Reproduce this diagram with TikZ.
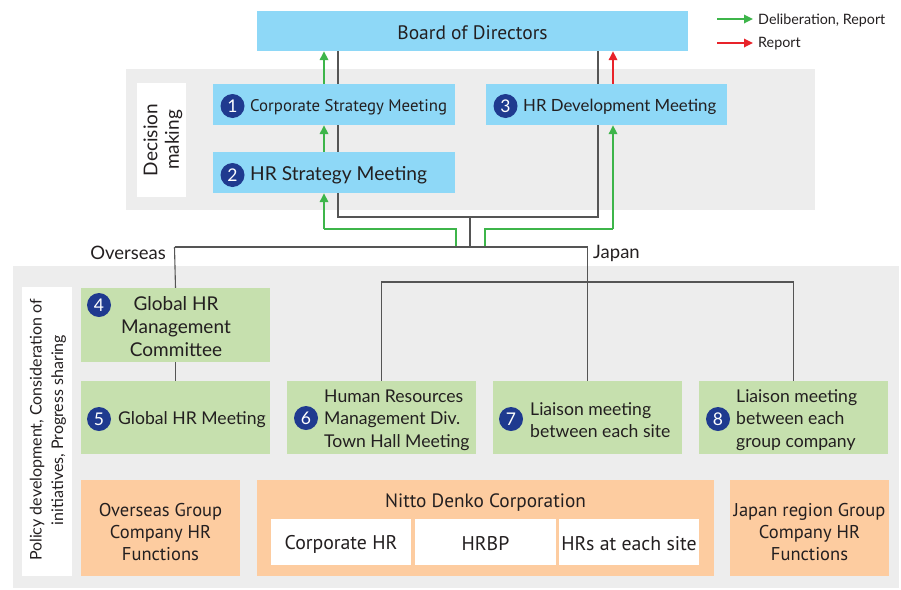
\documentclass[tikz,border=0pt]{standalone}
\usepackage{fontspec}
\setmainfont{Lato}
\newfontfamily\cond{PT Sans}
\usetikzlibrary{arrows.meta}
\definecolor{blueBox}{HTML}{8ED8F7}
\definecolor{greenBox}{HTML}{C6E0AE}
\definecolor{orangeBox}{HTML}{FDCCA0}
\definecolor{panel}{HTML}{EDEDED}
\definecolor{numBlue}{HTML}{1F3A8F}
\definecolor{arrGreen}{HTML}{3DB54A}
\definecolor{arrRed}{HTML}{E8232A}
\definecolor{lineGray}{HTML}{555555}
\definecolor{txt}{HTML}{231F20}
\tikzset{
  x=1pt, y=-1pt,
  every node/.style={inner sep=0pt, text=txt},
  bluebox/.style={fill=blueBox, minimum height=41},
  greenbox/.style={fill=greenBox, minimum width=189, minimum height=73},
  orangebox/.style={fill=orangeBox, minimum height=96},
  whitebox/.style={fill=white, minimum height=46},
  num/.style={circle, fill=numBlue, minimum size=24, text=white, font=\fontsize{17.5}{17.5}\selectfont},
  btxt/.style={anchor=west, align=left, font=\fontsize{17.6}{22.3}\selectfont},
  dark/.style={draw=lineGray, line width=1.1pt},
  garrow/.style={draw=arrGreen, line width=1.7pt, -{Triangle[length=9pt,width=8.5pt]}},
  gline/.style={draw=arrGreen, line width=1.7pt},
  rarrow/.style={draw=arrRed, line width=1.7pt, -{Triangle[length=9pt,width=8.5pt]}},
}
\begin{document}
\begin{tikzpicture}
\useasboundingbox (0,0) rectangle (901,589);
% panels
\fill[panel] (126,69) rectangle (815,210);
\fill[panel] (13,266) rectangle (899,588);
\node[fill=white, minimum width=49, minimum height=114] (dm) at (161.5,140) {};
\node[rotate=90, align=center, font=\fontsize{19}{21.5}\selectfont] (dmt) at (163,140) {Decision\\making};
\node[fill=white, minimum width=50, minimum height=289] (pw) at (47,431.5) {};
\node[rotate=90, align=center, font=\fontsize{16}{21.5}\selectfont] (pwt) at (48,430) {Policy development, Consideration of\\initiatives, Progress sharing};
% boxes
\node[bluebox, minimum width=431, minimum height=40] (board) at (472.5,31) {};
\node[font=\cond\fontsize{19.5}{22}\selectfont] (boardt) at (472.5,33) {Board of Directors};
\coordinate (jL) at (338,217);
\coordinate (jR) at (598,217);
\coordinate (jM) at (470,217);
\coordinate (jB) at (470,247);
\coordinate (ov) at (174.5,247);
\coordinate (jp) at (587.5,247);
\coordinate (h2) at (0,282);
\coordinate (gA) at (324,229);
\coordinate (gB) at (613,229);
\coordinate (gs1) at (456,247);
\coordinate (gs2) at (485,247);
% dark lines behind boxes
\draw[dark] (board.south -| jL) -- (jL) -- (jR) -- (board.south -| jR);
\draw[dark] (jM) -- (jB);
\node[bluebox, minimum width=242] (b1) at (334,104.5) {};
\node[bluebox, minimum width=242] (b2) at (334,172.5) {};
\node[bluebox, minimum width=241] (b3) at (606.5,104.5) {};
\node[num] (n1) at (232.5,106) {1};
\node[btxt, font=\cond\fontsize{16.8}{20}\selectfont] (t1) at (250,107) {Corporate Strategy Meeting};
\node[num] (n2) at (232.5,175) {2};
\node[btxt, font=\fontsize{19.2}{22}\selectfont] (t2) at (250,175) {HR Strategy Meeting};
\node[num] (n3) at (505.5,106) {3};
\node[btxt, font=\fontsize{16.8}{20}\selectfont] (t3) at (523,107) {HR Development Meeting};
% arrows upper
\draw[garrow] (b1.north -| gA) -- (board.south -| gA);
\draw[garrow] (b2.north -| gA) -- (b1.south -| gA);
\draw[rarrow] (b3.north -| gB) -- (board.south -| gB);
\draw[gline] (gs1) |- (gA);
\draw[garrow] (gA) -- (b2.south -| gA);
\draw[gline] (gs2) |- (gB);
\draw[garrow] (gB) -- (b3.south -| gB);
% legend
\coordinate (lg1) at (717,19);
\coordinate (lg2) at (753,19);
\coordinate (lr1) at (717,43);
\coordinate (lr2) at (753,43);
\draw[garrow] (lg1) -- (lg2);
\draw[rarrow] (lr1) -- (lr2);
\node[anchor=west, font=\fontsize{14.3}{16}\selectfont] (lgt) at (758,20) {Deliberation, Report};
\node[anchor=west, font=\fontsize{14.3}{16}\selectfont] (lrt) at (758,44) {Report};
% green boxes
\node[greenbox, minimum height=74] (b4) at (175.5,325) {};
\node[greenbox] (b5) at (175.5,417.5) {};
\node[greenbox] (b6) at (381.5,417.5) {};
\node[greenbox] (b7) at (587.5,417.5) {};
\node[greenbox] (b8) at (793.5,417.5) {};
% lower connectors
\draw[dark] (ov) -- (jp);
\draw[dark] (ov) -- (b4.north);
\draw[dark] (jp) -- (b7.north);
\draw[dark] (b4.south) -- (b5.north);
\draw[dark] (b6.north) |- (h2 -| b8.north) -- (b8.north);
\node[anchor=east, font=\fontsize{18.5}{20}\selectfont] (ovt) at (166,253) {Overseas};
\node[anchor=west, font=\fontsize{18.5}{20}\selectfont] (jpt) at (593,253) {Japan};
% green box contents
\node[num] (n4) at (99,305) {4};
\node[align=center, font=\fontsize{19}{23}\selectfont] (t4) at (176,327) {Global HR\\Management\\Committee};
\node[num] (n5) at (99,419) {5};
\node[btxt] (t5) at (118,420) {Global HR Meeting};
\node[num] (n6) at (306,418) {6};
\node[btxt] (t6) at (324,420) {Human Resources\\Management Div.\\Town Hall Meeting};
\node[num] (n7) at (511,419) {7};
\node[btxt] (t7) at (530,420) {Liaison meeting\\between each site};
\node[num] (n8) at (718,419) {8};
\node[btxt] (t8) at (736,420) {Liaison meeting\\between each\\group company};
% orange boxes
\node[orangebox, minimum width=159] (o1) at (160.5,528) {};
\node[orangebox, minimum width=457] (o2) at (485.5,528) {};
\node[orangebox, minimum width=159] (o3) at (809.5,528) {};
\node[align=center, font=\cond\fontsize{18.5}{22}\selectfont] (o1t) at (160.5,532) {Overseas Group\\Company HR\\Functions};
\node[align=center, font=\cond\fontsize{18.5}{22}\selectfont] (o3t) at (809.5,532) {Japan region Group\\Company HR\\Functions};
\node[font=\cond\fontsize{19.3}{20}\selectfont] (o2t) at (485.5,503) {Nitto Denko Corporation};
\node[whitebox, minimum width=140] (w1) at (341,542) {};
\node[whitebox, minimum width=141] (w2) at (485.5,542) {};
\node[whitebox, minimum width=140] (w3) at (629,542) {};
\node[font=\cond\fontsize{19.8}{20}\selectfont] (w1t) at (341,544) {Corporate HR};
\node[font=\cond\fontsize{19.8}{20}\selectfont] (w2t) at (485.5,544) {HRBP};
\node[font=\cond\fontsize{19.8}{20}\selectfont] (w3t) at (629,544) {HRs at each site};
\end{tikzpicture}
\end{document}
